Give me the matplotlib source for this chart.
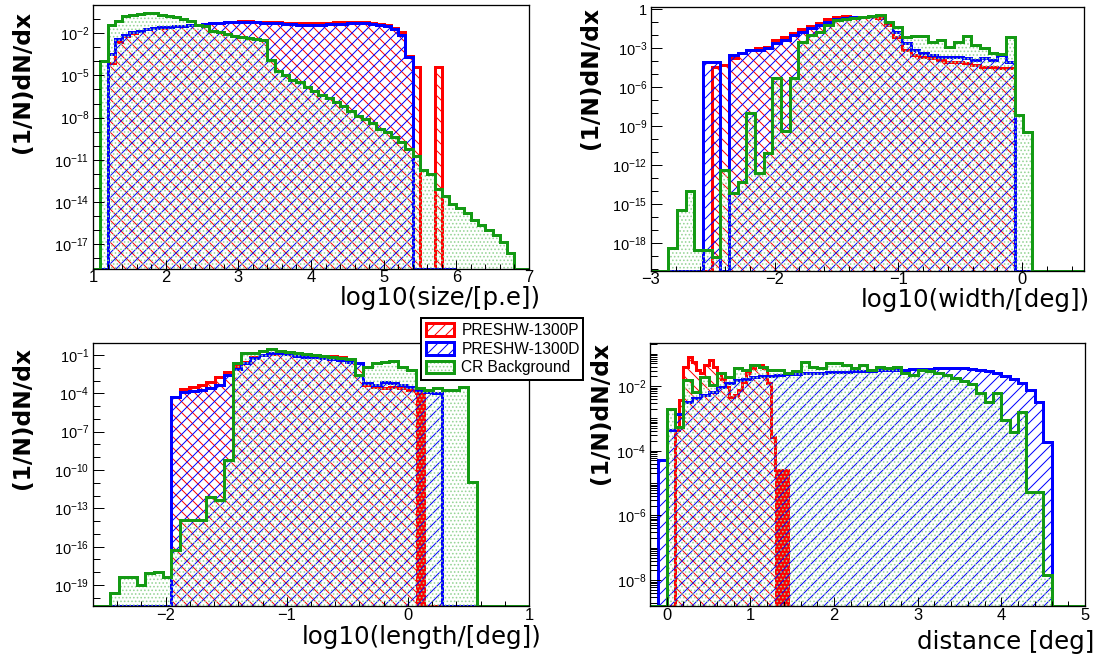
import numpy as np
import matplotlib
matplotlib.use("Agg")
import matplotlib.pyplot as plt
from matplotlib.patches import Patch
from matplotlib.ticker import FixedLocator, FuncFormatter, MultipleLocator, LogLocator, NullFormatter

# ---------------- data (log10 of (1/N)dN/dx, None = empty bin) ----------------
labels = ["PRESHW-1300P", "PRESHW-1300D", "CR Background"]

# size: bins of 0.1 starting at 1.0
size_start, size_width = 1.0, 0.1
size_P = [None, None, -4.1, -2.6, -2.2, -2.0, -1.85, -1.74, -1.66, -1.6,
          -1.55, -1.5, -1.46, -1.43, -1.39, -1.34, -1.29, -1.25, -1.22, -1.19,
          -1.17, -1.17, -1.18, -1.2, -1.22, -1.24, -1.26, -1.28, -1.3, -1.31,
          -1.3, -1.28, -1.26, -1.24, -1.22, -1.2, -1.2, -1.22, -1.28, -1.36,
          -1.45, -1.62, -1.95, -3.6, -4.4, None, None, -4.4, None]
size_D = [None, None, -3.5, -2.45, -2.1, -1.95, -1.82, -1.72, -1.65, -1.58,
          -1.53, -1.5, -1.47, -1.45, -1.41, -1.36, -1.3, -1.27, -1.24, -1.21,
          -1.19, -1.2, -1.22, -1.25, -1.28, -1.31, -1.34, -1.38, -1.41, -1.43,
          -1.43, -1.41, -1.38, -1.35, -1.32, -1.29, -1.28, -1.3, -1.35, -1.42,
          -1.5, -1.7, -2.1, -3.7, None, None, None, None, None, None]
size_CR = [None, -4.0, -1.4, -1.17, -0.8, -0.7, -0.63, -0.58, -0.6, -0.7,
           -0.77, -0.82, -1.0, -1.17, -1.4, -1.5, -1.88, -1.95, -2.05, -2.19,
           -2.28, -2.36, -2.43, -2.52, -3.9, -4.7, -5.0, -5.3, -5.5, -5.8,
           -6.1, -6.4, -6.6, -6.9, -7.2, -7.5, -7.9, -8.1, -8.4, -8.8,
           -9.0, -9.4, -9.7, -10.2, -10.7, -11.7, -12.0, -13.1, -13.6, -14.1,
           -14.45, -14.8, -15.3, -15.6, -16.0, -16.3, -16.8, -17.6, None, None]

# width: bins of 0.07 starting at -3.0
width_start, width_width = -3.0, 0.07
width_P = [None, None, None, None, None, None, None, -4.41, -4.28, -3.77,
           -3.38, -3.13, -3.0, -2.87, -2.36, -2.1, -1.79, -1.54, -1.28, -1.03,
           -0.77, -0.56, -0.51, -0.56, -0.62, -0.56, -0.69, -1.2, -2.1, -3.13,
           -3.51, -3.64, -3.77, -3.9, -4.03, -4.03, -4.15, -4.28, -4.41, -4.41,
           -4.54, -4.54, None, None, None, None, None, None, None, None]
width_D = [None, None, None, None, None, None, -4.03, -4.03, None, -3.51,
           -3.38, -3.13, -3.13, -3.0, -2.62, -2.36, -1.97, -1.72, -1.46, -1.2,
           -0.95, -0.77, -0.69, -0.62, -0.56, -0.51, -0.44, -0.95, -1.72, -2.62,
           -3.13, -3.38, -3.51, -3.64, -3.64, -3.69, -3.77, -3.9, -3.77, -3.9,
           -3.51, -4.03, None, None, None, None, None, None, None, None]
width_CR = [None, None, -18.38, -15.44, -13.95, -18.51, -18.51, -19.03, -12.36, -14.1,
            -13.26, -8.0, -12.56, -11.08, -5.31, -9.33, -5.31, -2.49, -1.97, -1.72,
            -1.2, -0.82, -0.77, -0.69, -0.62, -0.51, -0.44, -0.95, -1.33, -2.1,
            -2.05, -2.05, -2.49, -2.36, -2.87, -2.49, -2.05, -2.74, -3.0, -3.38,
            -3.44, -2.1, -8.13, -9.41, None, None, None, None, None, None]

# length: bins of 0.072 starting at -2.6
length_start, length_width = -2.6, 0.072
length_P = [None] * 9 + [
    -4.31, -3.69, -3.48, -3.35, -3.09, -2.75, -2.3, -1.86, -1.52, -1.18, -1.0,
    -0.92, -0.87, -0.95, -1.03, -1.08, -1.13, -1.13, -1.08, -1.18, -1.39,
    -1.6, -3.35, -3.48, -3.61, -3.48, -3.61, -3.74, -4.0, None, None] + [None] * 10
length_D = [None] * 9 + [
    -4.26, -3.87, -3.79, -3.74, -3.61, -3.35, -2.57, -2.12, -1.65, -1.26, -1.0,
    -0.87, -0.87, -0.95, -1.08, -1.13, -1.18, -1.26, -1.34, -1.39, -1.52,
    -1.6, -3.22, -3.35, -3.09, -3.22, -3.35, -3.48, -3.74, -3.87, -3.95] + [None] * 10
length_CR = [None, None, -19.65, -18.35, -18.35, -19.0, -18.09, -17.96, -18.35, -16.26,
             -13.91, -13.91, -13.91, -12.09, -12.35, -9.22, -1.65, -0.87, -0.87, -0.66,
             -0.56, -0.66, -0.74, -0.87, -0.92, -1.0, -1.08, -1.18, -1.26, -1.34,
             -2.57, -1.91, -1.6, -1.52, -1.44, -1.91, -2.17, -3.61, -3.74, -3.61,
             -3.74, -3.74, -3.48, -10.91, None, None, None, None, None, None]

# distance: signal (P) bins of 0.05 from 0.0, others bins of 0.1 from -0.2
dist_P_start, dist_P_width = 0.0, 0.05
dist_P = [None, None,
          -3.36, -2.43, -1.4, -1.09, -1.25, -1.5, -1.61, -1.35, -1.2, -1.4,
          -1.61, -1.77, -2.02, -2.33, -2.28, -2.12, -1.87, -1.61, -1.45, -1.35,
          -1.35, -1.45, -1.92, -3.57, -4.6, -4.6, -4.6, None]
dist_start, dist_width = -0.2, 0.1
dist_D = [None, -4.29, -3.36, -2.85, -2.48, -2.38, -2.28, -2.17, -2.02, -1.92,
          -1.82, -1.77, -1.73, -1.7, -1.68, -1.65, -1.63, -1.62, -1.61, -1.6,
          -1.59, -1.58, -1.57, -1.56, -1.55, -1.54, -1.53, -1.52, -1.51, -1.5,
          -1.49, -1.48, -1.47, -1.46, -1.45, -1.44, -1.44, -1.45, -1.47, -1.5,
          -1.54, -1.6, -1.68, -1.78, -1.9, -2.12, -2.48, -3.72, None, None,
          None, None]
dist_CR = [None, None,
           -2.72, -3.26, -1.81, -2.18, -1.71, -1.97, -1.61, -1.71, -1.45, -1.5,
           -1.35, -1.4, -1.5, -1.5, -1.6, -1.55, -1.25, -1.4, -1.45, -1.3,
           -1.3, -1.35, -1.45, -1.35, -1.5, -1.4, -1.45, -1.4, -1.6, -1.65,
           -1.5, -1.55, -1.6, -1.65, -1.75, -1.85, -1.95, -2.23, -2.48, -2.23,
           -3.05, -3.41, -2.79, -5.27, -5.27, -7.85, None, None, None, None]

xlabels = ["log10(size/[p.e])", "log10(width/[deg])", "log10(length/[deg])", "distance [deg]"]
ylabel = "(1/N)dN/dx"

# ---------------- styling ----------------
DPI = 132
W, H = 1104, 664


def pt(px):
    return px * 72.0 / DPI


RED, BLUE, GREEN, DOTS = "#ff0000", "#0000ff", "#149a14", "#96d496"
LW = pt(3.0)
HATCH_RED, HATCH_BLUE, HATCH_DOTS = "\\\\\\\\", "////", "......"

plt.rcParams.update({
    "font.family": ["Liberation Sans", "DejaVu Sans"],
    "mathtext.default": "regular",
    "hatch.linewidth": pt(1.0),
    "axes.unicode_minus": True,
})

fig = plt.figure(figsize=(W / DPI, H / DPI), dpi=DPI)
fig.patch.set_facecolor("white")


def ax_at(l, t, r, b):
    return fig.add_axes([l / W, 1 - b / H, (r - l) / W, (b - t) / H])


def draw_hist(ax, start, width, logs, floor, color, hatch, hcolor, solid_from=None):
    vals = np.array([floor if v is None else 10.0 ** v for v in logs])
    edges = start + width * np.arange(len(vals) + 1)
    ax.stairs(vals, edges, baseline=floor, fill=True, facecolor="none",
              edgecolor=hcolor, hatch=hatch, linewidth=0)
    if solid_from is not None:
        sel = edges[:-1] >= solid_from - 1e-9
        ax.stairs(np.where(sel, vals, floor), edges, baseline=floor, fill=True,
                  facecolor=color, edgecolor="none", linewidth=0)
    ax.stairs(vals, edges, baseline=floor, fill=False, color=color, linewidth=LW)


def style_axis(ax, xlim, ylog, label_exps, minor_exps, xminor=0.2, dense_minor=False):
    ax.set_yscale("log")
    ax.set_xlim(*xlim)
    ax.set_ylim(10.0 ** ylog[0], 10.0 ** ylog[1])
    ax.yaxis.set_major_locator(FixedLocator([10.0 ** e for e in label_exps]))

    def fmt(v, p):
        e = int(round(np.log10(v)))
        return "1" if e == 0 else r"$10^{%d}$" % e

    ax.yaxis.set_major_formatter(FuncFormatter(fmt))
    if dense_minor:
        ax.yaxis.set_minor_locator(LogLocator(base=10, subs=np.arange(1, 10), numticks=200))
    else:
        ax.yaxis.set_minor_locator(FixedLocator([10.0 ** e for e in minor_exps]))
    ax.yaxis.set_minor_formatter(NullFormatter())
    ax.xaxis.set_major_locator(MultipleLocator(1))
    ax.xaxis.set_minor_locator(MultipleLocator(xminor))
    ax.tick_params(which="both", direction="in", top=False, right=False, width=pt(1.0), colors="black")
    ax.tick_params(axis="y", which="major", length=pt(11), pad=pt(4), labelsize=pt(14.5))
    ax.tick_params(axis="y", which="minor", length=pt(7))
    ax.tick_params(axis="x", which="major", length=pt(9), pad=pt(1.5), labelsize=pt(16.5))
    ax.tick_params(axis="x", which="minor", length=pt(5))
    for s in ax.spines.values():
        s.set_linewidth(pt(1.3))
        s.set_color("black")


panels = [
    dict(box=(93, 5, 529, 269), xlim=(1, 7), ylog=(-18.75, 0.0),
         lab=[-17, -14, -11, -8, -5, -2], minor=range(-18, 1), solid=None,
         series=[(size_start, size_width, size_P), (size_start, size_width, size_D),
                 (size_start, size_width, size_CR)],
         xl=(541, 298), yl=(23, 82)),
    dict(box=(651, 7, 1084, 271), xlim=(-3, 0.5), ylog=(-20.13, 0.18),
         lab=[-18, -15, -12, -9, -6, -3, 0], minor=range(-20, 1), solid=None,
         series=[(width_start, width_width, width_P), (width_start, width_width, width_D),
                 (width_start, width_width, width_CR)],
         xl=(1090, 300), yl=(590, 78)),
    dict(box=(93, 343, 529, 606), xlim=(-2.6, 1), ylog=(-20.64, -0.06),
         lab=[-19, -16, -13, -10, -7, -4, -1], minor=range(-20, 0), solid=0.06,
         series=[(length_start, length_width, length_P), (length_start, length_width, length_D),
                 (length_start, length_width, length_CR)],
         xl=(541, 637), yl=(23, 418)),
    dict(box=(650, 343, 1085, 606), xlim=(-0.2, 5), ylog=(-8.8, -0.67),
         lab=[-8, -6, -4, -2], minor=range(-8, 0), dense=True, solid=1.3,
         series=[(dist_P_start, dist_P_width, dist_P), (dist_start, dist_width, dist_D),
                 (dist_start, dist_width, dist_CR)],
         xl=(1094, 642), yl=(601, 413)),
]

for i, p in enumerate(panels):
    ax = ax_at(*p["box"])
    floor = 10.0 ** p["ylog"][0]
    (s0, w0, dP), (s1, w1, dD), (s2, w2, dC) = p["series"]
    draw_hist(ax, s0, w0, dP, floor, RED, HATCH_RED, RED, solid_from=p["solid"])
    draw_hist(ax, s1, w1, dD, floor, BLUE, HATCH_BLUE, BLUE)
    draw_hist(ax, s2, w2, dC, floor, GREEN, HATCH_DOTS, DOTS)
    style_axis(ax, p["xlim"], p["ylog"], p["lab"], p["minor"], dense_minor=p.get("dense", False))
    fig.text(p["xl"][0] / W, 1 - p["xl"][1] / H, xlabels[i], ha="right", va="center",
             fontsize=pt(24.5), family="DejaVu Sans")
    fig.text(p["yl"][0] / W, 1 - p["yl"][1] / H, ylabel, ha="center", va="center",
             rotation=90, fontsize=pt(23.4), family="DejaVu Sans", weight="bold")

# ---------------- legend ----------------
h_red = Patch(facecolor="white", edgecolor=RED, hatch="////", linewidth=LW)
h_blue = Patch(facecolor="white", edgecolor=BLUE, hatch="////", linewidth=LW)
h_green = (Patch(facecolor="white", edgecolor=DOTS, hatch=HATCH_DOTS, linewidth=0),
           Patch(facecolor="none", edgecolor=GREEN, linewidth=LW))
leg = fig.legend([h_red, h_blue, h_green], labels, loc="upper left",
                 bbox_to_anchor=(421 / W, 1 - 380 / H, 162 / W, 62 / H), mode="expand",
                 borderaxespad=0, fontsize=pt(15.5), handlelength=1.8, handleheight=0.9,
                 handletextpad=0.5, labelspacing=0.25, borderpad=0.3,
                 fancybox=False, framealpha=1, edgecolor="black")
leg.get_frame().set_linewidth(pt(2.0))

fig.savefig("out.png", dpi=DPI, facecolor="white")
